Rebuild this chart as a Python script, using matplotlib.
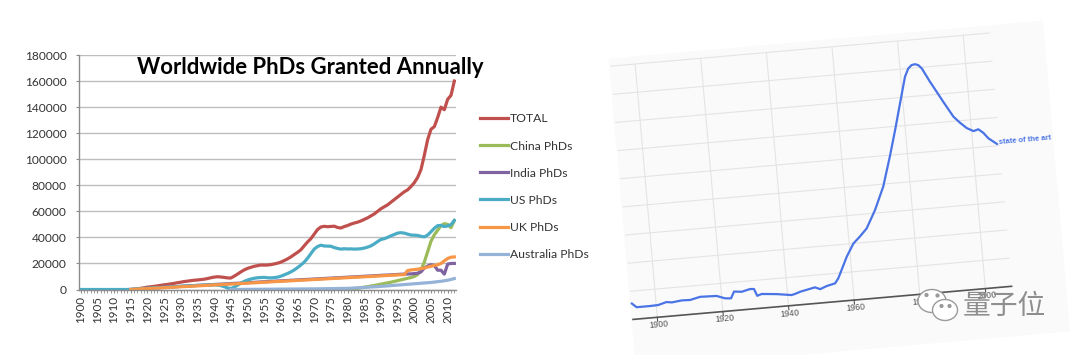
import matplotlib
matplotlib.use('Agg')
import matplotlib.pyplot as plt
from matplotlib.transforms import Affine2D, IdentityTransform
from matplotlib.patches import Rectangle, Ellipse, Circle
from matplotlib.ticker import MultipleLocator

plt.rcParams['font.family'] = ['Lato', 'DejaVu Sans']

# ---------------- Left chart data (Worldwide PhDs Granted Annually) ----------------
years = list(range(1900, 2013))
N = None

total = [N] * 15 + [
    0, 300, 600, 900, 1300, 1800, 2100, 2400, 2800, 3200,
    3600, 3900, 4300, 4700, 5200, 5600, 6100, 6400, 6800, 7100,
    7300, 7600, 7900, 8400, 9000, 9500, 9800, 9600, 9300, 8900,
    8800, 10200, 11800, 13500, 15000, 16200, 17000, 17800, 18300, 18800,
    18700, 18800, 19100, 19600, 20200, 21000, 22200, 23500, 25000, 26800,
    28500, 30500, 33500, 36500, 39000, 42500, 46000, 48000, 48500, 48200,
    48400, 48600, 47600, 47200, 48300, 49100, 50200, 51000, 51700, 52600,
    53800, 55000, 56500, 58000, 60000, 62000, 63500, 65000, 67000, 69000,
    71000, 73000, 75000, 76500, 79000, 82000, 86000, 92000, 103000, 115000,
    123000, 125000, 132000, 140000, 138000, 146000, 149000, 160000]

china = [N] * 80 + [
    0, 250, 550, 900, 1300, 1750, 2200, 2650, 3100, 3600,
    4100, 4600, 5100, 5600, 6200, 6800, 7400, 8000, 8600, 9200,
    10000, 11500, 15000, 21000, 29000, 37000, 42000, 45500, 49000, 50500,
    50000, 47500, 53000]

india = [N] * 20 + [
    900, 1050, 1200, 1350, 1500,
    1650, 1800, 1950, 2100, 2250, 2400, 2550, 2700, 2850, 3000,
    3150, 3300, 3400, 3550, 3700, 3850, 4000, 4100, 4250, 4400,
    4550, 4700, 4800, 4950, 5100, 5250, 5400, 5500, 5650, 5800,
    5950, 6100, 6200, 6350, 6500, 6650, 6800, 6900, 7050, 7200,
    7350, 7500, 7600, 7750, 7900, 8050, 8200, 8300, 8450, 8600,
    8750, 8900, 9000, 9150, 9300, 9450, 9600, 9700, 9850, 10000,
    10150, 10300, 10400, 10550, 10700, 10850, 11000, 11100, 11250, 11400,
    11550, 11700, 11800, 11900, 12000, 12200, 12500, 13500, 16500, 18000,
    19000, 18500, 14800, 14800, 11800, 19500, 20000, 20000]

us = [0] * 15 + [
    200, 350, 500, 650, 800, 950, 1100, 1250, 1400, 1550,
    1700, 1850, 2000, 2150, 2300, 2450, 2600, 2750, 2900, 3000,
    3100, 3200, 3300, 3400, 3500, 3550, 3400, 3000, 2200, 1200,
    700, 1800, 3300, 4800, 6200, 7200, 8000, 8600, 9000, 9200,
    9300, 9000, 8900, 9100, 9500, 10200, 11200, 12300, 13500, 15000,
    16800, 18800, 21000, 24000, 27500, 31000, 33000, 34000, 33400, 33300,
    33200, 32200, 31500, 31000, 31300, 31100, 31200, 31000, 31100, 31300,
    31800, 32500, 33500, 35000, 36800, 38400, 39000, 40000, 41200, 42200,
    43300, 43600, 43300, 42500, 41800, 41700, 41500, 40800, 40400, 41800,
    44300, 47000, 49000, 49200, 48300, 48800, 49800, 53000]

uk = [N] * 15 + [
    0, 150, 280, 420, 560, 700, 830, 960, 1100, 1240,
    1380, 1520, 1650, 1800, 1940, 2080, 2220, 2350, 2500, 2640,
    2780, 2920, 3050, 3200, 3340, 3480, 3620, 3750, 3900, 4040,
    4180, 4320, 4450, 4600, 4740, 4880, 5020, 5150, 5300, 5440,
    5580, 5720, 5850, 6000, 6140, 6280, 6420, 6550, 6700, 6840,
    6980, 7120, 7250, 7400, 7540, 7680, 7820, 7950, 8100, 8240,
    8380, 8520, 8650, 8800, 8940, 9080, 9220, 9350, 9500, 9640,
    9780, 9920, 10050, 10200, 10340, 10480, 10620, 10750, 10900, 11040,
    11180, 11320, 11450, 14500, 15000, 15300, 15600, 16000, 16500, 17200,
    17800, 18500, 19000, 20000, 22000, 23800, 24800, 25000]

australia = [N] * 45 + [
    0, 20, 40, 60, 80, 100, 120, 140, 160, 180,
    200, 220, 240, 260, 280, 300, 320, 340, 360, 380,
    400, 420, 440, 460, 480, 500, 530, 560, 600, 640,
    680, 720, 760, 800, 850, 900, 1000, 1150, 1300, 1450,
    1600, 1750, 1900, 2050, 2200, 2400, 2600, 2800, 3000, 3200,
    3400, 3600, 3800, 4000, 4200, 4400, 4600, 4800, 5000, 5200,
    5400, 5700, 6000, 6300, 6700, 7100, 7700, 8400]

series_names = ['TOTAL', 'China PhDs', 'India PhDs', 'US PhDs', 'UK PhDs', 'Australia PhDs']
series_values = [total, china, india, us, uk, australia]
series_colors = ['#C0504D', '#9BBB59', '#8064A2', '#4BACC6', '#F79646', '#95B3D7']
for s in series_values:
    assert len(s) == len(years), len(s)

y_ticks = list(range(0, 180001, 20000))
x_label_years = list(range(1900, 2011, 5))

# ---------------- Right chart data (Ngram: "state of the art") ----------------
ngram_years = [1892.6, 1894.0, 1898.0, 1900.6, 1903.2, 1904.8, 1907.8, 1910.4, 1913.5,
               1918.5, 1921.0, 1922.8, 1923.9, 1926.2, 1928.8, 1930.0, 1930.8, 1932.2,
               1936.7, 1941.2, 1942.3, 1943.9, 1948.5, 1950.0, 1952.1, 1954.7, 1955.8,
               1957.0, 1958.9, 1961.3, 1963.4, 1965.7, 1968.7, 1971.8, 1974.6, 1976.9,
               1979.1, 1981.3, 1982.5, 1983.6, 1984.7, 1985.7, 1986.6, 1988.7, 1989.6,
               1992.2, 1994.9, 1996.7, 1998.6, 2000.6, 2002.1, 2003.5, 2004.9, 2007.4]
ngram_values = [0.57, 0.42, 0.42, 0.43, 0.51, 0.48, 0.52, 0.51, 0.59,
                0.57, 0.46, 0.44, 0.67, 0.64, 0.71, 0.70, 0.45, 0.50,
                0.45, 0.37, 0.40, 0.46, 0.57, 0.49, 0.58, 0.65, 0.82,
                1.10, 1.55, 2.00, 2.22, 2.49, 3.11, 3.91, 4.95, 5.87,
                6.80, 7.72, 8.00, 8.11, 8.13, 8.08, 7.96, 7.47, 7.28,
                6.72, 6.16, 5.93, 5.72, 5.59, 5.64, 5.50, 5.29, 5.06]
ngram_label = 'state of the art'
ngram_xticks = [1900, 1920, 1940, 1960, 1980, 2000]
ngram_levels = list(range(1, 10))

# ---------------- Figure ----------------
W, H = 1080, 355
fig = plt.figure(figsize=(W / 100, H / 100), dpi=100)
fig.patch.set_facecolor('white')

# Left axes
ax = fig.add_axes([79 / W, (H - 289.5) / H, 377 / W, 234.5 / H])
for name, vals, col in zip(series_names, series_values, series_colors):
    xs = [y for y, v in zip(years, vals) if v is not None]
    vs = [v for v in vals if v is not None]
    ax.plot(xs, vs, color=col, lw=2.3, label=name, solid_joinstyle='round')
ax.set_xlim(1899.5, 2012.5)
ax.set_ylim(0, 180000)
ax.set_yticks(y_ticks)
ax.set_yticklabels([str(v) for v in y_ticks])
ax.set_xticks(x_label_years)
ax.set_xticklabels([str(y) for y in x_label_years], rotation=90)
ax.xaxis.set_minor_locator(MultipleLocator(1))
ax.grid(axis='y', color='#bdbdbd', lw=1.0)
ax.set_axisbelow(True)
for sp in ['top', 'right']:
    ax.spines[sp].set_visible(False)
for sp in ['left', 'bottom']:
    ax.spines[sp].set_color('#8c8c8c')
    ax.spines[sp].set_linewidth(1.0)
ax.tick_params(axis='y', length=2.5, color='#8c8c8c', labelsize=8.6, labelcolor='#333333', pad=6.5)
ax.tick_params(axis='x', which='both', length=2.5, color='#8c8c8c', labelsize=8.4,
               labelcolor='#333333', pad=2)

leg = ax.legend(loc='upper left', bbox_to_anchor=(480 / W, (H - 113.5) / H),
                bbox_transform=fig.transFigure, frameon=False, fontsize=8.7,
                handlelength=2.3, handletextpad=0.15, labelspacing=1.33,
                borderpad=0, borderaxespad=0)
for t in leg.get_texts():
    t.set_color('#333333')

fig.text(310.5 / W, (H - 67) / H, 'Worldwide PhDs Granted Annually', ha='center', va='center',
         fontsize=15.9, fontweight='bold', color='black')

# Right (rotated Ngram) axes
PX, PY = 657.3, 37.7
PX_PER_YEAR = 3.293
PX_PER_UNIT = 28.25
x0, x1 = 1892.6, 2008.0
axr = fig.add_axes([(PX + (x0 - 1900) * PX_PER_YEAR) / W, PY / H,
                    (x1 - x0) * PX_PER_YEAR / W, 9 * PX_PER_UNIT / H])
axr.set_xlim(x0, x1)
axr.set_ylim(0, 9)
axr.axis('off')
rot = axr.transData + Affine2D().rotate_deg_around(PX, PY, 5)

axr.add_patch(Rectangle((1892.1, -1.77), 132.4, 11.04, transform=rot, facecolor='#fafafa',
                        edgecolor='none', clip_on=False, zorder=0))
for yr in ngram_xticks:
    axr.plot([yr, yr], [0, 9], transform=rot, color='#e4e4e4', lw=0.8, clip_on=False, zorder=1)
for lv in ngram_levels:
    axr.plot([x0, x1], [lv, lv], transform=rot, color='#e4e4e4', lw=0.8, clip_on=False, zorder=1)
axr.plot([x0, x1], [0, 0], transform=rot, color='#555555', lw=1.2, clip_on=False, zorder=2)
for yr in ngram_xticks:
    axr.plot([yr, yr], [0, -0.14], transform=rot, color='#555555', lw=0.8, clip_on=False, zorder=2)
    axr.text(yr + 0.3, -0.27, str(yr), transform=rot, rotation=5, rotation_mode='anchor',
             ha='center', va='center', fontsize=6.2, color='#555555',
             family=['Liberation Sans', 'DejaVu Sans'])
axr.plot(ngram_years, ngram_values, transform=rot, color='#4a74e6', lw=1.6, clip_on=False,
         zorder=3, solid_joinstyle='round', solid_capstyle='round')
axr.text(ngram_years[-1] + 0.6, ngram_values[-1] + 0.05, ngram_label, transform=rot,
         rotation=5, rotation_mode='anchor', ha='left', va='center', fontsize=5.4,
         fontweight='bold', color='#4a74e6', family=['Liberation Sans', 'DejaVu Sans'])

# Watermark
ident = IdentityTransform()
fig.add_artist(Ellipse((932, 54), 28, 23, transform=ident, facecolor='white',
                       edgecolor='#9a9a9a', lw=1.0, zorder=5))
fig.add_artist(Ellipse((945, 45), 25, 21, transform=ident, facecolor='white',
                       edgecolor='#9a9a9a', lw=1.0, zorder=6))
for cx, cy in [(926.5, 60), (937.5, 59.5)]:
    fig.add_artist(Circle((cx, cy), 1.4, transform=ident, color='#9a9a9a', zorder=6))
for cx, cy in [(941.5, 49), (949.5, 49)]:
    fig.add_artist(Circle((cx, cy), 1.4, transform=ident, color='#9a9a9a', zorder=7))
fig.text(1004 / W, (H - 306) / H, '量子位', ha='center', va='center', fontsize=20,
         color='#8e8e8e', family=['Noto Sans CJK SC', 'DejaVu Sans'], fontweight='light',
         zorder=7)

fig.savefig('out.png', dpi=100, facecolor='white')
